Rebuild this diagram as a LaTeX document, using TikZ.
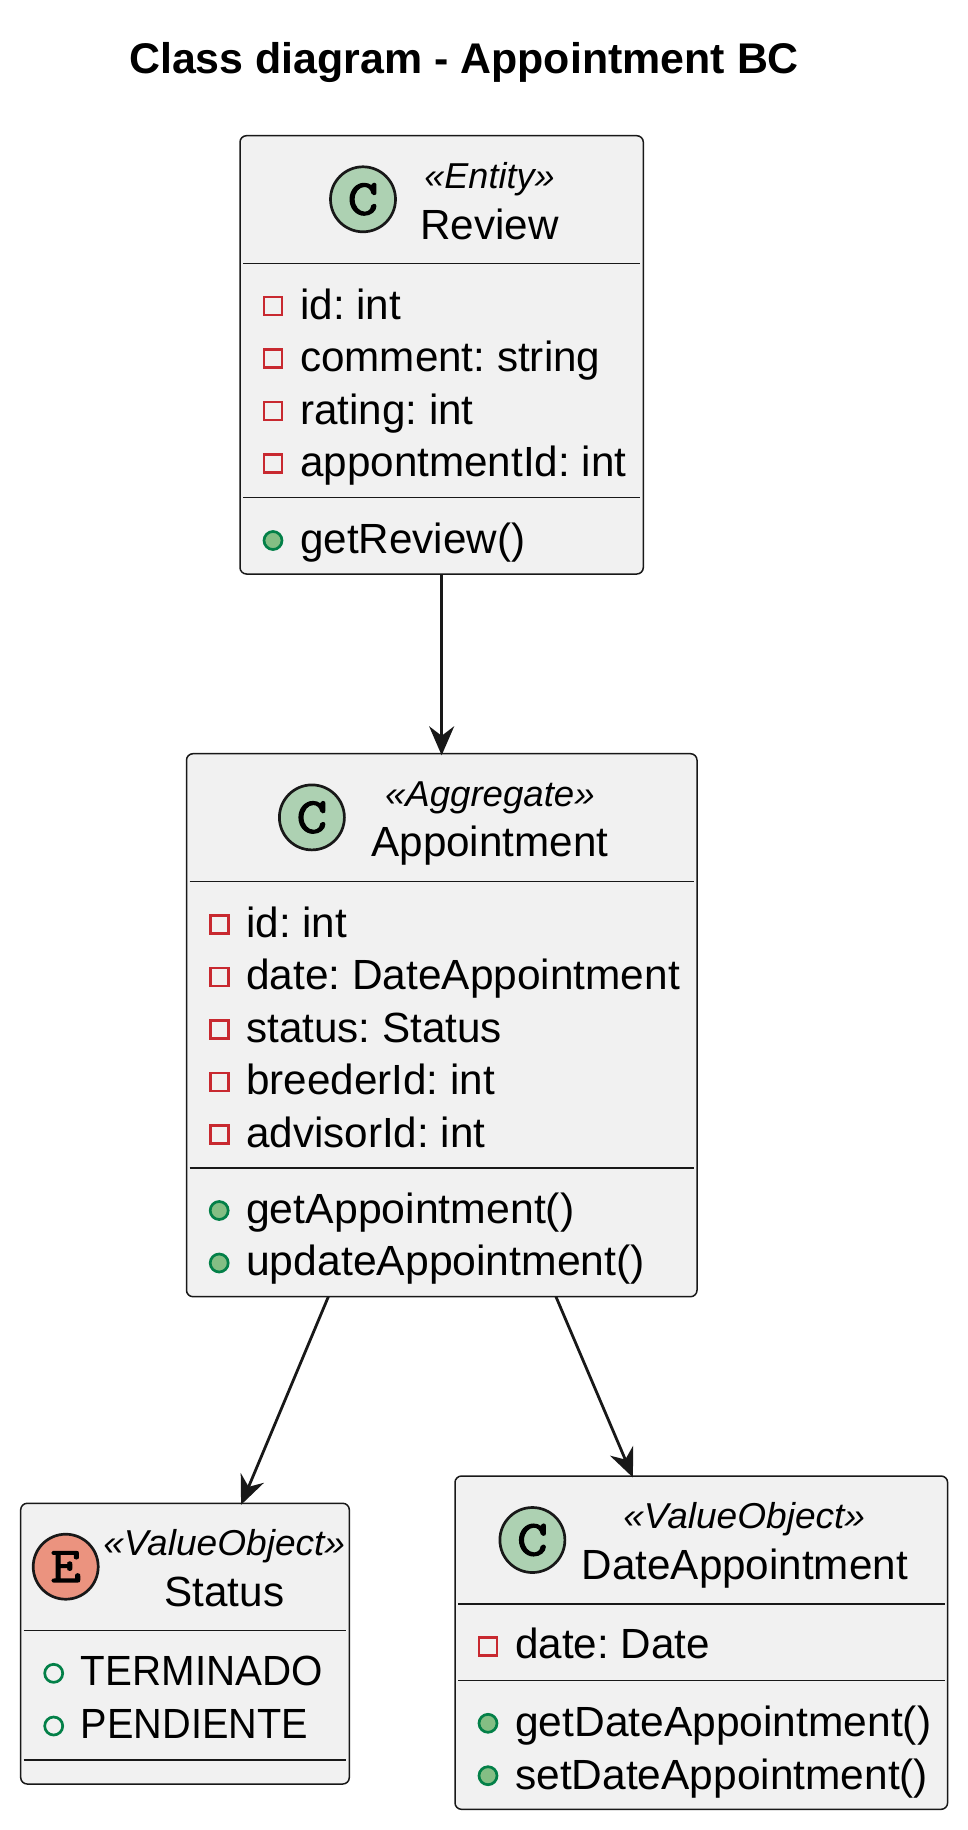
\documentclass[tikz,border=0pt]{standalone}
\usepackage{fontspec}
\setmainfont{Liberation Sans}
\newfontfamily\letterfont[FakeBold=2.6,FakeStretch=1.18]{Latin Modern Mono}
\usetikzlibrary{arrows.meta}
\definecolor{boxfill}{HTML}{F1F1F1}
\definecolor{ink}{HTML}{181818}
\definecolor{classc}{HTML}{ADD1B2}
\definecolor{enumc}{HTML}{EB937F}
\definecolor{privc}{HTML}{C82930}
\definecolor{pubc}{HTML}{038048}
\definecolor{pubf}{HTML}{84BE84}
\tikzset{
 x=1pt,y=-1pt,
 every node/.append style={execute at begin node=\frenchspacing},
 umlbox/.style={draw=ink,fill=boxfill,line width=1.5pt,rounded corners=6.5pt,anchor=north west,inner sep=0pt,outer sep=0pt},
 sep/.style={draw=ink,line width=1.5pt},
 glyph/.style={circle,draw=ink,line width=2.7pt,minimum size=65pt,inner sep=0pt,outer sep=0pt},
 lett/.style={font=\letterfont\fontsize{50}{50}\selectfont,text=black,anchor=center,inner sep=0pt},
 stereo/.style={anchor=base,inner sep=0pt,font=\itshape\fontsize{36}{36}\selectfont},
 cname/.style={anchor=base,inner sep=0pt,font=\fontsize{42.2}{42}\selectfont},
 mem/.style={anchor=base west,inner sep=0pt,font=\fontsize{42.2}{42}\selectfont},
 priv/.style={rectangle,draw=privc,line width=2.7pt,minimum size=18pt,inner sep=0pt},
 pub/.style={circle,draw=pubc,fill=pubf,line width=2.7pt,minimum size=18pt,inner sep=0pt},
 enumv/.style={circle,draw=pubc,line width=2.7pt,minimum size=18pt,inner sep=0pt},
 conn/.style={draw=ink,line width=2.8pt,-{Stealth[length=29pt,width=25pt,inset=9.5pt]},shorten >=-1.6pt},
}
\begin{document}
\begin{tikzpicture}
\useasboundingbox (0,0) rectangle (967,1830);
\node[anchor=base west,inner sep=0pt,font=\bfseries\fontsize{42.9}{42}\selectfont] (title) at (129,73.5) {Class diagram - Appointment BC};

% Review
\node[umlbox,minimum width=403.3pt,minimum height=438.3pt] (review) at (240,135.7) {};
\node[glyph,fill=classc] (rg) at (363,199.3) {};
\node[lett] (rl) at (363,199.3) {C};
\node[stereo] (rs) at (489.5,188.3) {«Entity»};
\node[cname] (rn) at (489.5,239) {Review};
\draw[sep] (243,263.3) -- (640.3,263.3);
\draw[sep] (243,497.7) -- (640.3,497.7);
\node[priv] (rp1) at (273,306) {}; \node[mem] (rt1) at (300,319) {id: int};
\node[priv] (rp2) at (273,358.7) {}; \node[mem] (rt2) at (300,371.5) {comment: string};
\node[priv] (rp3) at (273,411) {}; \node[mem] (rt3) at (300,424) {rating: int};
\node[priv] (rp4) at (273,463.7) {}; \node[mem] (rt4) at (300,476.5) {appontmentId: int};
\node[pub] (rm1) at (273,540.5) {}; \node[mem] (rt5) at (300,553) {getReview()};

% Appointment
\node[umlbox,minimum width=510.5pt,minimum height=543pt] (appt) at (186.5,753.7) {};
\node[glyph,fill=classc] (ag) at (311.9,817.4) {};
\node[lett] (al) at (311.9,817.4) {C};
\node[stereo] (as) at (489.9,806.3) {\scalebox{1.017}[1]{«Aggregate»}};
\node[cname] (an) at (489.9,856) {Appointment};
\draw[sep] (189.5,881.5) -- (694,881.5);
\draw[sep] (189.5,1168) -- (694,1168);
\node[priv] (ap1) at (219.2,924.5) {}; \node[mem] (at1) at (246,937) {id: int};
\node[priv] (ap2) at (219.2,977) {}; \node[mem] (at2) at (246,989.5) {\scalebox{1.005}[1]{date: DateAppointment}};
\node[priv] (ap3) at (219.2,1029.5) {}; \node[mem] (at3) at (246,1042) {status: Status};
\node[priv] (ap4) at (219.2,1082) {}; \node[mem] (at4) at (246,1094.5) {breederId: int};
\node[priv] (ap5) at (219.2,1134.5) {}; \node[mem] (at5) at (246,1147) {advisorId: int};
\node[pub] (am1) at (219.2,1210.5) {}; \node[mem] (at6) at (246,1223) {\scalebox{1.014}[1]{getAppointment()}};
\node[pub] (am2) at (219.2,1263) {}; \node[mem] (at7) at (246,1275.5) {\scalebox{1.012}[1]{updateAppointment()}};

% Status
\node[umlbox,minimum width=328.6pt,minimum height=280.7pt] (status) at (20.7,1503.3) {};
\node[glyph,fill=enumc] (sg) at (65.7,1566.7) {};
\node[lett] (sl) at (65.7,1566.7) {E};
\node[stereo] (ss) at (224.2,1555.5) {\scalebox{1.03}[1]{«ValueObject»}};
\node[cname] (sn) at (224.3,1606) {Status};
\draw[sep] (23.7,1630.7) -- (346.3,1630.7);
\draw[sep] (23.7,1760) -- (346.3,1760);
\node[enumv] (sv1) at (53.7,1673.3) {}; \node[mem] (st1) at (80.7,1685) {\scalebox{0.955}[1]{TERMINADO}};
\node[enumv] (sv2) at (53.7,1726) {}; \node[mem] (st2) at (80.7,1738) {\scalebox{0.94}[1]{PENDIENTE}};

% DateAppointment
\node[umlbox,minimum width=492.6pt,minimum height=333.3pt] (date) at (455,1476) {};
\node[glyph,fill=classc] (dg) at (532.4,1540) {};
\node[lett] (dl) at (532.4,1540) {C};
\node[stereo] (ds) at (744.2,1528.3) {\scalebox{1.03}[1]{«ValueObject»}};
\node[cname] (dn) at (744.8,1579.3) {DateAppointment};
\draw[sep] (458,1604) -- (945,1604);
\draw[sep] (458,1680.3) -- (945,1680.3);
\node[priv] (dp1) at (488,1646.7) {}; \node[mem] (dt1) at (515,1658.8) {date: Date};
\node[pub] (dm1) at (488,1723.3) {}; \node[mem] (dt2) at (515,1736.5) {\scalebox{1.008}[1]{getDateAppointment()}};
\node[pub] (dm2) at (488,1775.7) {}; \node[mem] (dt3) at (515,1789) {\scalebox{1.006}[1]{setDateAppointment()}};

% connectors
\draw[conn] (review.south) -- (appt.north -| review.south);
\draw[conn] ([xshift=-113.4pt]appt.south) -- ([xshift=56.7pt]status.north);
\draw[conn] ([xshift=114.2pt]appt.south) -- ([xshift=-69pt]date.north);
\end{tikzpicture}
\end{document}
